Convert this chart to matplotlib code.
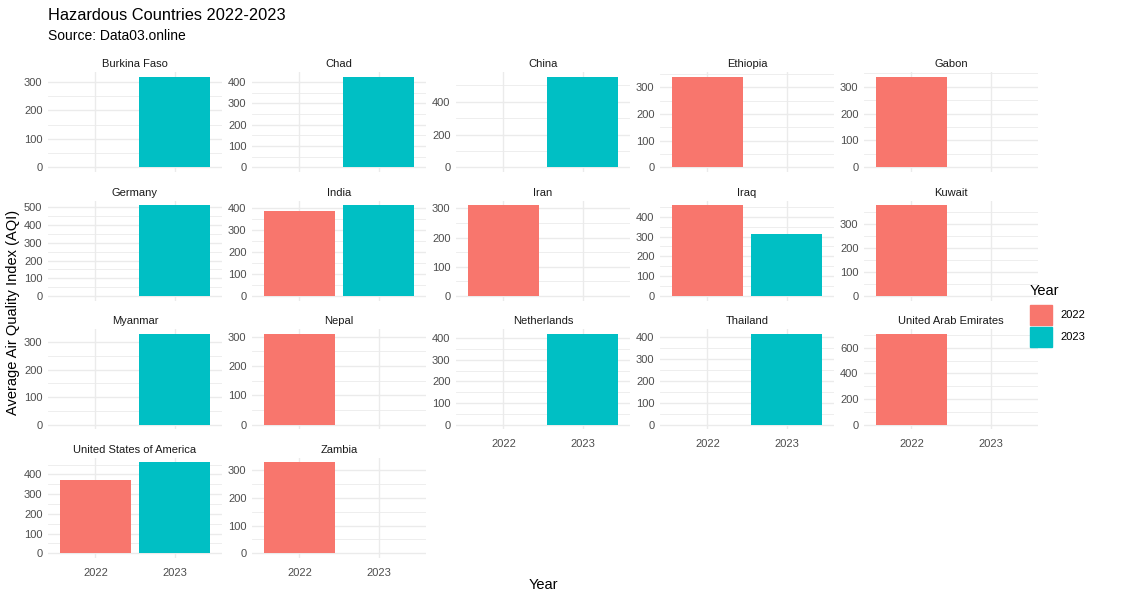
import matplotlib
matplotlib.use("Agg")
import matplotlib.pyplot as plt
from matplotlib.ticker import MaxNLocator, AutoMinorLocator
from matplotlib.patches import Rectangle

plt.rcParams['font.family'] = ['Liberation Sans', 'DejaVu Sans']

countries = ['Burkina Faso', 'Chad', 'China', 'Ethiopia', 'Gabon',
             'Germany', 'India', 'Iran', 'Iraq', 'Kuwait',
             'Myanmar', 'Nepal', 'Netherlands', 'Thailand', 'United Arab Emirates',
             'United States of America', 'Zambia']
aqi_2022 = [None, None, None, 341, 337,
            None, 385, 311, 458, 380,
            None, 310, None, None, 710,
            370, 328]
aqi_2023 = [318, 425, 552, None, None,
            512, 411, None, 313, None,
            330, None, 420, 415, None,
            461, None]
years = ['2022', '2023']
colors = ['#F8766D', '#00BFC4']

W, H = 1125, 600
fig = plt.figure(figsize=(W / 100, H / 100), dpi=100)

ncol = 5
left0, col_step, pw = 48, 204, 174
top0, row_step, ph = 72, 128.6, 100
n = len(countries)
grid_col = '#EBEBEB'

for i, name in enumerate(countries):
    r, c = divmod(i, ncol)
    x0 = left0 + c * col_step
    y0 = top0 + r * row_step
    ax = fig.add_axes([x0 / W, 1 - (y0 + ph) / H, pw / W, ph / H])
    vals = [aqi_2022[i], aqi_2023[i]]
    for k, v in enumerate(vals):
        if v is not None:
            ax.bar(k, v, width=0.9, color=colors[k], zorder=3)
    vmax = max(v for v in vals if v is not None)
    ax.set_ylim(-0.05 * vmax, 1.05 * vmax)
    ax.set_xlim(-0.6, 1.6)
    ax.yaxis.set_major_locator(MaxNLocator(nbins=6, steps=[1, 2, 5, 10]))
    ax.yaxis.set_minor_locator(AutoMinorLocator(2))
    ax.set_xticks([0, 1])
    ax.grid(which='major', color=grid_col, lw=1.0, zorder=0)
    ax.grid(which='minor', axis='y', color=grid_col, lw=0.6, zorder=0)
    ax.set_axisbelow(True)
    for s in ax.spines.values():
        s.set_visible(False)
    ax.tick_params(which='both', length=0, labelsize=8, labelcolor='#4D4D4D')
    ax.tick_params(axis='y', pad=4)
    ax.tick_params(axis='x', pad=7)
    # x labels only on the bottom panel of each column
    if i + ncol < n:
        ax.set_xticklabels([])
    else:
        ax.set_xticklabels(years)
    ax.set_title(name, fontsize=8, color='#1A1A1A', pad=3.5)

fig.text(48 / W, 1 - 15 / H, 'Hazardous Countries 2022-2023', fontsize=11.8,
         color='black', va='center', ha='left')
fig.text(48 / W, 1 - 36 / H, 'Source: Data03.online', fontsize=10,
         color='black', va='center', ha='left')
fig.text(13 / W, 1 - 312 / H, 'Average Air Quality Index (AQI)', fontsize=10.5,
         rotation=90, va='center', ha='center')
fig.text(543 / W, 1 - 585 / H, 'Year', fontsize=10.5, va='center', ha='center')

# legend
fig.text(1030 / W, 1 - 291 / H, 'Year', fontsize=10.5, va='center', ha='left')
for k, yr in enumerate(years):
    ytop = 305 + k * 22
    fig.patches.append(Rectangle((1030 / W, 1 - (ytop + 20) / H), 22 / W, 20 / H,
                                 transform=fig.transFigure, color=colors[k]))
    fig.text(1060 / W, 1 - (ytop + 10) / H, yr, fontsize=8, va='center', ha='left')

fig.savefig('out.png', dpi=100)
